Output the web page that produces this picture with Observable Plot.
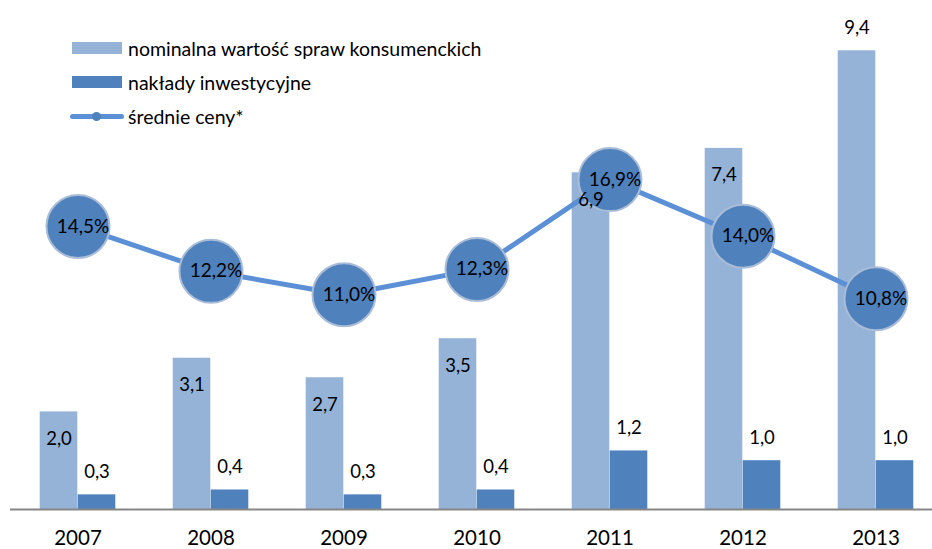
<!DOCTYPE html>
<html>
<head>
<meta charset="utf-8">
<script src="https://cdn.jsdelivr.net/npm/d3@7"></script>
<script src="https://cdn.jsdelivr.net/npm/@observablehq/plot@0.6"></script>
<style>
  html, body { margin: 0; padding: 0; background: #fff; }
  #wrap { position: relative; width: 932px; height: 549px; font-family: Lato, "Open Sans", sans-serif; }
  #legend { position: absolute; left: 70px; top: 31px; font-size: 19.5px; color: #000; }
  .item { display: flex; align-items: center; height: 34px; }
  .sw { width: 50px; height: 12px; margin-right: 6px; margin-left: 2px; }
  .ln { position: relative; width: 54px; height: 5px; background: #5B8FD6; border-radius: 3px; margin-right: 4px; }
  .ln::after { content: ""; position: absolute; left: 22px; top: -2px; width: 9px; height: 9px; border-radius: 50%; background: #4F81BD; }
</style>
</head>
<body>
<div id="wrap">
  <div id="chart"></div>
  <div id="legend"></div>
</div>
<script>
const years = ["2007", "2008", "2009", "2010", "2011", "2012", "2013"];
const nominal = [2.0, 3.1, 2.7, 3.5, 6.9, 7.4, 9.4];
const invest = [0.3, 0.4, 0.3, 0.4, 1.2, 1.0, 1.0];
const prices = [14.5, 12.2, 11.0, 12.3, 16.9, 14.0, 10.8];
const seriesNames = ["nominalna wartość spraw konsumenckich", "nakłady inwestycyjne", "średnie ceny*"];

const lightColor = "#95B3D7";
const darkColor = "#4F81BD";
const lineColor = "#5B8FD6";
const fmt = v => v.toFixed(1).replace(".", ",");

const rows = years.map((y, i) => ({year: y, nom: nominal[i], inv: invest[i], price: prices[i]}));
const secondary = 2.5; // secondary axis 0–25% against primary 0–10

const chart = Plot.plot({
  width: 932,
  height: 549,
  marginTop: 21,
  marginBottom: 40,
  marginLeft: 10,
  marginRight: 0,
  style: {fontFamily: "Lato, 'Open Sans', sans-serif", background: "#fff"},
  x: {domain: years, range: [10.3, 943.6], padding: 0, axis: null},
  y: {domain: [0, 10], axis: null},
  marks: [
    Plot.barY(rows, {x: "year", y: "nom", fill: lightColor, insetLeft: 28.7, insetRight: 66.7}),
    Plot.barY(rows, {x: "year", y: "inv", fill: darkColor, insetLeft: 66.7, insetRight: 28.7}),
    Plot.ruleY([0], {stroke: "#868686", strokeWidth: 2}),
    Plot.axisX({tickSize: 0, tickPadding: 21, fontSize: 20.5, fill: "#000", label: null}),
    Plot.line(rows, {x: "year", y: d => d.price / secondary, stroke: lineColor, strokeWidth: 5}),
    Plot.dot(rows, {x: "year", y: d => d.price / secondary, r: 31.5, fill: darkColor, stroke: "#A9BCD8", strokeWidth: 2}),
    Plot.text(rows, {x: "year", y: d => d.price / secondary, text: d => fmt(d.price) + "%", dx: 5, fontSize: 19, fill: "#000", lineAnchor: "middle"}),
    Plot.text(rows.filter(d => d.nom <= 9), {x: "year", y: "nom", text: d => fmt(d.nom), dx: -19, dy: 27, fontSize: 18.5, fill: "#000", lineAnchor: "middle"}),
    Plot.text(rows.filter(d => d.nom > 9), {x: "year", y: "nom", text: d => fmt(d.nom), dx: -19, dy: -23, fontSize: 18.5, fill: "#000", lineAnchor: "middle"}),
    Plot.text(rows, {x: "year", y: "inv", text: d => fmt(d.inv), dx: 19, dy: -23, fontSize: 18.5, fill: "#000", lineAnchor: "middle"})
  ]
});

document.getElementById("chart").appendChild(chart);

const legend = document.getElementById("legend");
legend.innerHTML = `
  <div class="item"><div class="sw" style="background:${lightColor}"></div><span>${seriesNames[0]}</span></div>
  <div class="item"><div class="sw" style="background:${darkColor}"></div><span>${seriesNames[1]}</span></div>
  <div class="item"><div class="ln"></div><span>${seriesNames[2]}</span></div>`;
</script>
</body>
</html>
